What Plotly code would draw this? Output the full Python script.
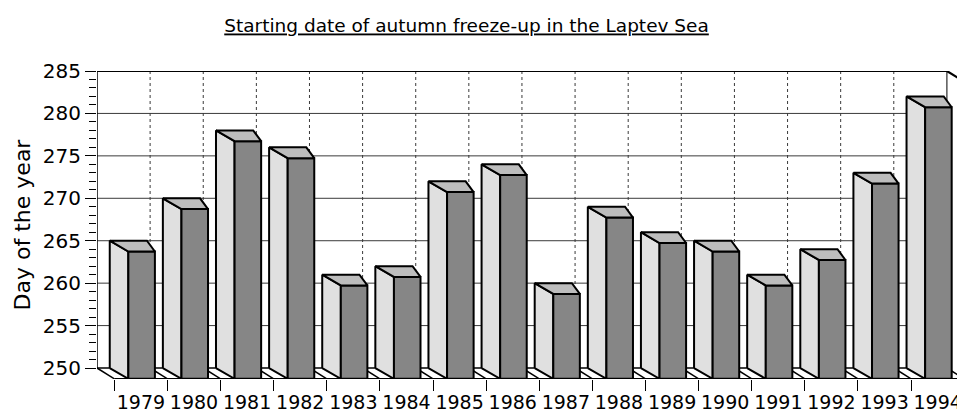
import plotly.graph_objects as go

# ---- data ----
years = ["1979", "1980", "1981", "1982", "1983", "1984", "1985", "1986",
         "1987", "1988", "1989", "1990", "1991", "1992", "1993", "1994"]
freeze_day = [265, 270, 278, 276, 261, 262, 272, 274,
              260, 269, 266, 265, 261, 264, 273, 282]
y_ticks = [250, 255, 260, 265, 270, 275, 280, 285]

# ---- pseudo-3D geometry (category units / data units) ----
BASE = 250
TOP = 285
DEPTH_Y = 1.27      # downward offset of the front plane
DEPTH_X = 0.326     # rightward offset of the front plane
XL, XM, XR, XTB = 0.24, 0.59, 1.09, 0.94
N = len(years)
X_MAX = 16.19
Y_MIN = 248.705

LIGHT = "#e0e0e0"
TOPC = "#bdbdbd"
DARK = "#868686"

fig = go.Figure()

def add_line(xs, ys, color="black", width=1.0, dash="solid"):
    fig.add_trace(go.Scatter(x=xs, y=ys, mode="lines", hoverinfo="skip",
                             line=dict(color=color, width=width, dash=dash),
                             showlegend=False))

# back-wall horizontal grid
gx, gy = [], []
for t in y_ticks[1:-1]:
    gx += [0, N, None]
    gy += [t, t, None]
add_line(gx, gy, color="#3a3a3a", width=1.0)

# back-wall vertical grid
vx, vy = [], []
for b in range(1, N):
    vx += [b, b, None]
    vy += [BASE, TOP, None]
add_line(vx, vy, color="#3a3a3a", width=1.0, dash="dot")

# wall frame
add_line([0, 0], [BASE, TOP], width=1.5)
add_line([N, N], [BASE, TOP], width=1.0)
add_line([0, N, N + DEPTH_X], [TOP, TOP, TOP - DEPTH_Y], width=2.2)
add_line([0, N], [BASE, BASE], width=1.5)

# floor diagonals and front floor edge
fx, fy = [], []
for b in range(0, N + 1):
    fx += [b, b + DEPTH_X, None]
    fy += [BASE, BASE - DEPTH_Y, None]
add_line(fx, fy, width=1.5)
add_line([DEPTH_X, X_MAX], [BASE - DEPTH_Y, BASE - DEPTH_Y], width=1.5)

# bars: side (light), front (dark), top faces
lx, ly, dx, dy, tx, ty = [], [], [], [], [], []
for i, v in enumerate(freeze_day):
    lx += [i + XL, i + XL, i + XM, i + XM, i + XL, None]
    ly += [BASE, v, v - DEPTH_Y, BASE - DEPTH_Y, BASE, None]
    dx += [i + XM, i + XM, i + XR, i + XR, i + XM, None]
    dy += [BASE - DEPTH_Y, v - DEPTH_Y, v - DEPTH_Y, BASE - DEPTH_Y, BASE - DEPTH_Y, None]
    tx += [i + XL, i + XTB, i + XR, i + XM, i + XL, None]
    ty += [v, v, v - DEPTH_Y, v - DEPTH_Y, v, None]

for xs, ys, col in [(lx, ly, LIGHT), (dx, dy, DARK), (tx, ty, TOPC)]:
    fig.add_trace(go.Scatter(x=xs, y=ys, mode="lines", fill="toself",
                             fillcolor=col, hoverinfo="skip",
                             line=dict(color="black", width=2),
                             showlegend=False))

font_family = "DejaVu Sans"

fig.update_layout(
    width=957, height=413,
    margin=dict(l=97, r=0, t=71, b=34, autoexpand=False),
    paper_bgcolor="white", plot_bgcolor="white",
    title=dict(text="Starting date of autumn freeze-up in the Laptev Sea",
               x=0.4875, xanchor="center", y=0.937, yanchor="middle",
               yref="container", automargin=False,
               font=dict(family=font_family, size=18.5, color="black",
                         lineposition="under")),
    xaxis=dict(range=[0, X_MAX], showgrid=False, zeroline=False, showline=False,
               automargin=False, ticklabeloverflow="allow",
               tickmode="array",
               tickvals=[i + 0.5 + DEPTH_X for i in range(N)],
               ticktext=years, ticks="outside", ticklen=6,
               tickcolor="rgba(0,0,0,0)",
               tickfont=dict(family=font_family, size=19, color="black"),
               minor=dict(tickmode="array",
                          tickvals=[b + DEPTH_X for b in range(N + 1)],
                          ticks="outside", ticklen=11, tickwidth=1,
                          tickcolor="black", showgrid=False),
               fixedrange=True),
    yaxis=dict(range=[Y_MIN, TOP], showgrid=False, zeroline=False, showline=False,
               automargin=False,
               tickmode="array", tickvals=y_ticks,
               ticktext=[str(t) for t in y_ticks],
               ticks="outside", ticklen=11, tickwidth=1, tickcolor="black",
               tickfont=dict(family=font_family, size=20, color="black"),
               minor=dict(tickmode="array",
                          tickvals=[v for v in range(BASE + 1, TOP) if v % 5],
                          ticks="outside", ticklen=7, tickwidth=1,
                          tickcolor="black", showgrid=False),
               title=dict(text="Day of the year",
                          font=dict(family=font_family, size=22, color="black"),
                          standoff=6),
               fixedrange=True),
)

fig.write_html("out.html", config={"displayModeBar": False},
               post_script="document.body.style.margin='0';document.body.style.overflow='hidden';")
